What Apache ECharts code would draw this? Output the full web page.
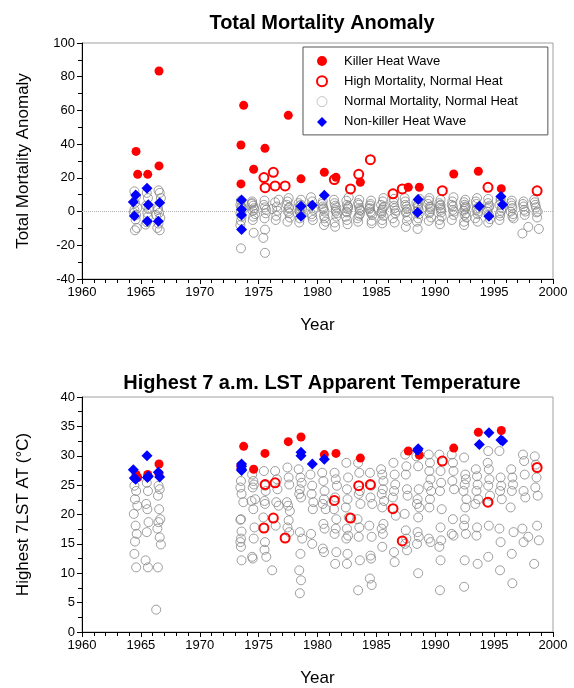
<!DOCTYPE html>
<html>
<head>
<meta charset="utf-8">
<script src="https://cdn.jsdelivr.net/npm/echarts@6/dist/echarts.min.js"></script>
<style>html,body{margin:0;padding:0;background:#fff}#c{width:574px;height:688px}</style>
</head>
<body>
<div id="c"></div>
<script>
// ---- DATA ----
const xTicks = [1960, 1965, 1970, 1975, 1980, 1985, 1990, 1995, 2000];
const mortTicks = [-40, -20, 0, 20, 40, 60, 80, 100];
const tempTicks = [0, 5, 10, 15, 20, 25, 30, 35, 40];

// Killer Heat Wave: year position, mortality anomaly, 7 a.m. apparent temperature
const killerYear = [1964.59, 1964.73, 1965.58, 1966.54, 1966.54, 1973.50, 1973.50, 1973.73, 1974.58, 1975.54, 1977.52, 1978.60, 1980.58, 1981.57, 1983.64, 1987.71, 1988.65, 1991.57, 1993.66, 1995.61];
const killerMort = [35.7, 22.1, 22.1, 83.4, 27.1, 39.5, 16.4, 63.0, 25.1, 37.5, 57.1, 19.4, 23.3, 20.3, 17.4, 14.4, 14.4, 22.3, 23.9, 13.6];
const killerTemp = [26.8, 26.3, 26.8, 28.6, 26.9, 28.4, 27.9, 31.6, 27.7, 30.4, 32.4, 33.2, 30.2, 30.4, 29.6, 30.8, 30.1, 31.3, 34.0, 34.3];

// High Mortality, Normal Heat
const highYear = [1975.45, 1975.55, 1976.25, 1976.40, 1977.25, 1981.43, 1982.80, 1983.50, 1984.49, 1986.41, 1987.20, 1990.60, 1994.48, 1998.65];
const highMort = [20.2, 14.2, 23.3, 15.2, 15.2, 19.0, 13.4, 22.1, 30.8, 10.5, 13.4, 12.4, 14.4, 12.3];
const highTemp = [17.7, 25.1, 19.4, 25.4, 16.0, 22.4, 19.4, 24.9, 25.1, 21.0, 15.5, 29.1, 22.1, 28.0];

// Non-killer Heat Wave
const nkYear = [1965.52, 1964.56, 1964.36, 1965.63, 1966.60, 1964.45, 1965.55, 1966.48, 1973.55, 1973.55, 1973.55, 1973.55, 1978.60, 1978.60, 1979.56, 1980.58, 1988.55, 1988.50, 1993.74, 1994.56, 1995.58, 1995.72];
const nkMort = [13.8, 9.9, 5.7, 4.0, 5.3, -2.6, -5.7, -5.7, 6.9, 1.2, -2.0, -10.7, 3.2, -2.8, 3.7, 9.7, 7.1, -0.6, 3.1, -2.8, 8.9, 4.1];
const nkTemp = [30.0, 26.0, 27.6, 26.5, 26.4, 26.2, 26.3, 27.2, 28.6, 27.7, 28.2, 27.5, 30.6, 30.0, 28.6, 29.4, 31.2, 30.9, 31.9, 33.9, 32.7, 32.5];

// Normal Mortality, Normal Heat
const grayYear = [
 1964.45,1964.60,1964.50,1964.70,1964.40,1964.55,1964.65,1964.50,1964.45,1964.60,
 1965.50,1965.60,1965.45,1965.55,1965.65,1965.50,1965.40,1965.60,
 1966.50,1966.60,1966.45,1966.55,1966.65,1966.50,1966.40,1966.60,1966.70,1966.45,1966.30,
 1973.50,1973.45,1973.55,1973.70,1973.50,1973.45,1973.55,1973.50,1973.45,1973.50,1973.55,
 1974.45,1974.55,1974.60,1974.50,1974.70,1974.40,1974.55,1974.65,1974.58,1974.45,1974.50,
 1975.45,1975.55,1975.60,1975.50,1975.54,1975.40,1975.54,1975.65,1975.50,
 1976.40,1976.55,1976.60,1976.50,1976.70,1976.45,1976.15,
 1977.45,1977.55,1977.60,1977.40,1977.50,1977.65,1977.55,1977.45,1977.60,
 1978.40,1978.55,1978.65,1978.50,1978.45,1978.60,1978.50,1978.70,1978.55,1978.45,1978.60,1978.50,
 1979.40,1979.55,1979.50,1979.65,1979.60,1979.45,1979.55,
 1980.40,1980.50,1980.60,1980.55,1980.45,1980.70,1980.50,1980.60,1980.45,1980.55,
 1981.45,1981.55,1981.65,1981.50,1981.40,1981.60,1981.55,1981.45,1981.60,1981.50,
 1982.45,1982.60,1982.50,1982.55,1982.40,1982.65,1982.50,1982.60,1982.45,1982.55,1982.50,
 1983.45,1983.55,1983.60,1983.50,1983.65,1983.40,1983.55,1983.50,1983.60,1983.45,
 1984.45,1984.55,1984.50,1984.65,1984.40,1984.60,1984.50,1984.55,1984.45,1984.60,
 1985.40,1985.50,1985.60,1985.55,1985.45,1985.65,1985.50,1985.60,1985.45,1985.55,1985.50,
 1986.45,1986.55,1986.60,1986.50,1986.40,1986.65,1986.50,1986.55,
 1987.45,1987.55,1987.50,1987.60,1987.65,1987.40,1987.50,1987.55,1987.45,1987.60,
 1988.40,1988.55,1988.60,1988.50,1988.45,1988.65,1988.55,1988.50,1988.60,1988.45,1988.55,
 1989.45,1989.55,1989.50,1989.60,1989.40,1989.65,1989.55,1989.50,1989.45,1989.60,
 1990.35,1990.45,1990.50,1990.40,1990.55,1990.45,1990.50,1990.35,1990.45,1990.40,
 1991.40,1991.50,1991.55,1991.45,1991.60,1991.50,1991.40,1991.55,
 1992.45,1992.55,1992.60,1992.50,1992.40,1992.65,1992.55,1992.50,1992.45,1992.60,1992.50,1992.45,
 1993.45,1993.55,1993.60,1993.50,1993.65,1993.40,1993.55,1993.50,1993.60,
 1994.50,1994.45,1994.55,1994.60,1994.50,1994.65,1994.40,1994.55,1994.50,
 1995.45,1995.55,1995.60,1995.50,1995.65,1995.45,1995.55,1995.50,
 1996.45,1996.55,1996.60,1996.50,1996.40,1996.65,1996.50,1996.55,
 1997.45,1997.55,1997.60,1997.50,1997.65,1997.40,1997.90,1997.50,
 1998.45,1998.55,1998.60,1998.50,1998.70,1998.65,1998.80,1998.40
];
const grayMort = [
 12.0,9.1,5.2,2.2,-0.8,-4.7,-9.7,-11.1,1.0,-2.0,
 11.1,8.0,3.5,-0.8,1.5,-6.3,-7.7,-3.0,
 12.6,11.1,2.2,-0.8,-3.8,-7.1,-9.7,-11.1,8.0,1.0,-2.0,
 6.5,4.0,3.0,1.5,0.5,-1.0,-3.0,-5.5,-8.0,-21.8,2.0,
 5.0,3.5,2.0,0.5,-1.5,4.5,-3.0,1.0,-12.6,6.0,-5.0,
 4.0,2.5,-1.0,6.5,-10.7,-15.6,-24.5,1.0,-4.0,
 5.5,3.0,0.5,-2.5,7.0,-5.0,1.5,
 6.0,2.0,-1.0,4.0,0.0,-3.5,8.0,-6.0,2.5,
 5.0,1.5,-2.0,3.5,0.5,7.0,-4.0,2.0,-1.0,-6.5,4.0,0.0,
 3.0,6.0,-1.5,1.0,-5.0,8.5,-3.0,
 4.5,2.0,0.0,-2.5,6.0,-6.0,1.5,-4.0,3.0,-8.0,
 5.0,1.0,-1.0,3.5,7.0,-3.0,0.0,-6.5,2.5,-9.0,
 6.5,3.0,-0.5,1.5,-3.0,8.5,-5.0,2.5,0.0,-7.5,4.0,
 5.0,2.0,-1.5,4.0,0.5,-4.0,7.0,-2.5,1.0,-6.0,
 3.5,6.5,0.0,-2.0,1.5,-5.5,4.5,-1.0,2.0,-7.0,
 4.0,1.0,-2.5,6.0,0.0,3.0,-5.0,8.0,-1.0,2.0,-7.0,
 5.5,2.0,-1.0,3.5,-4.0,0.5,7.5,-6.5,
 6.0,3.0,-0.5,1.5,-3.0,8.0,-9.1,0.0,4.0,-5.5,
 5.0,2.5,-1.5,3.5,0.0,7.5,-4.0,-10.3,1.0,-6.0,4.5,
 6.5,3.0,-1.0,1.5,4.5,-3.5,0.0,8.0,-5.5,2.5,
 5.0,2.0,-0.5,3.5,-3.0,7.0,1.0,-5.0,4.0,-7.5,
 4.0,1.0,-2.0,6.0,0.0,3.0,-5.0,8.5,
 5.5,2.5,-1.0,4.0,0.5,-3.5,7.0,1.5,-6.0,3.0,-2.0,-8.0,
 6.0,2.0,-1.5,4.5,0.0,-4.0,8.0,1.0,-6.0,
 5.0,1.5,-2.0,3.5,7.5,-4.5,0.0,2.5,-6.5,
 4.0,6.5,0.5,-2.5,2.0,-5.0,8.0,-1.0,
 5.0,2.0,-1.5,3.5,0.0,-4.0,6.5,-3.0,
 4.5,1.0,-2.0,6.0,0.0,-13.0,-9.1,3.0,
 5.5,2.5,-0.5,4.0,0.0,-3.5,-10.3,7.0
];
const grayTemp = [
 24.9,24.0,22.6,21.5,20.1,18.1,16.7,15.4,13.3,11.0,
 25.4,24.0,21.8,20.9,18.7,17.0,12.2,11.0,
 24.9,24.3,23.2,20.9,19.2,18.7,17.6,16.1,14.9,11.0,3.8,
 25.7,24.6,23.5,22.1,19.2,19.1,17.1,15.9,15.3,14.5,12.2,
 26.8,25.7,25.1,24.6,22.6,22.3,20.9,17.8,15.9,12.8,12.5,
 27.4,24.9,24.0,22.3,21.8,19.5,15.3,12.8,14.0,
 27.4,26.0,24.3,22.1,21.5,18.1,10.5,
 28.0,26.3,25.1,22.1,21.5,20.6,19.0,17.8,17.0,
 27.7,26.3,25.4,24.3,23.5,22.9,17.0,15.9,13.3,10.5,8.8,6.6,
 26.8,24.9,23.5,22.1,20.9,16.7,15.0,
 27.1,25.7,24.0,22.6,21.8,20.9,18.4,17.6,14.2,13.6,
 27.1,26.0,24.9,22.9,20.9,19.2,17.6,16.7,13.6,11.6,
 28.8,26.3,24.3,22.6,21.2,19.5,17.6,16.4,15.9,13.3,11.6,
 28.8,27.1,24.0,23.5,21.8,19.2,17.8,16.2,12.2,7.1,
 27.1,24.9,22.9,21.8,18.1,16.2,13.0,12.5,9.1,8.0,
 27.7,26.8,25.7,24.3,23.5,22.3,21.2,18.4,17.6,16.7,14.5,
 28.8,26.8,25.1,24.0,22.9,19.8,13.6,11.9,
 30.2,28.2,26.8,24.3,23.2,20.1,17.3,15.9,15.0,13.9,
 29.9,28.2,24.3,22.6,21.8,21.2,19.5,17.0,16.2,15.0,10.0,
 30.2,28.8,27.4,26.0,24.9,24.0,22.6,21.2,15.9,15.3,
 30.2,27.4,25.4,24.0,20.9,17.8,15.6,14.5,12.2,7.1,
 30.2,28.8,27.4,25.7,24.3,19.2,16.7,16.4,
 29.7,26.8,26.0,25.1,24.0,22.6,21.2,19.2,18.1,16.7,12.2,7.7,
 27.7,26.5,25.1,24.0,22.6,21.8,17.8,16.4,11.6,
 30.8,28.8,27.7,26.0,24.9,23.2,22.1,18.1,12.8,
 30.8,26.3,24.9,24.0,22.6,17.6,15.3,10.5,
 27.7,26.3,25.1,24.0,21.2,17.0,13.3,8.3,
 30.2,29.1,26.8,24.0,22.9,17.6,16.2,15.3,
 29.9,28.5,26.3,24.6,23.2,18.1,15.6,11.6
];

const NAMES = ['Killer Heat Wave', 'High Mortality, Normal Heat', 'Normal Mortality, Normal Heat', 'Non-killer Heat Wave'];
const FONT = "'Liberation Sans', Arial, sans-serif";

function pairs(xs, ys) { return xs.map((x, i) => [x, ys[i]]); }

const chart = echarts.init(document.getElementById('c'), null, { renderer: 'canvas' });

function xAxisCfg(idx) {
  return {
    type: 'value', gridIndex: idx, min: xTicks[0], max: xTicks[xTicks.length - 1], interval: 5,
    name: 'Year', nameLocation: 'middle', nameGap: 38,
    nameTextStyle: { fontSize: 17, color: '#000', fontFamily: FONT },
    axisLine: { show: true, onZero: false, lineStyle: { color: '#000', width: 1 } },
    axisTick: { show: true, inside: false, length: 5, lineStyle: { color: '#000' } },
    minorTick: { show: true, splitNumber: 5, length: 4, lineStyle: { color: '#000' } },
    axisLabel: { fontSize: 13, color: '#000', fontFamily: FONT, margin: 7, formatter: v => String(v) },
    splitLine: { show: false }
  };
}
function yAxisCfg(idx, ticks, interval, name) {
  return {
    type: 'value', gridIndex: idx, min: ticks[0], max: ticks[ticks.length - 1], interval: interval,
    name: name, nameLocation: 'middle', nameGap: 50, nameRotate: 90,
    nameTextStyle: { fontSize: 17, color: '#000', fontFamily: FONT },
    axisLine: { show: true, onZero: false, lineStyle: { color: '#000', width: 1 } },
    axisTick: { show: true, inside: false, length: 5, lineStyle: { color: '#000' } },
    minorTick: { show: true, splitNumber: 2, length: 4, lineStyle: { color: '#000' } },
    axisLabel: { fontSize: 13, color: '#000', fontFamily: FONT, margin: 7, formatter: v => String(v) },
    splitLine: { show: false }
  };
}

const grayStyle = { color: 'rgba(0,0,0,0)', borderColor: '#858585', borderWidth: 0.8, opacity: 1 };
const openRedStyle = { color: 'rgba(0,0,0,0)', borderColor: '#ff0000', borderWidth: 2, opacity: 1 };
const redStyle = { color: '#ff0000', opacity: 1 };
const blueStyle = { color: '#0000ff', opacity: 1 };

function seriesSet(idx, mort) {
  const yVals = (a, b) => mort ? a : b;
  const list = [
    { name: NAMES[2], type: 'scatter', xAxisIndex: idx, yAxisIndex: idx, symbol: 'circle', symbolSize: 9,
      itemStyle: grayStyle, data: pairs(grayYear, yVals(grayMort, grayTemp)), z: 2 },
    { name: NAMES[1], type: 'scatter', xAxisIndex: idx, yAxisIndex: idx, symbol: 'circle', symbolSize: 9,
      itemStyle: openRedStyle, data: pairs(highYear, yVals(highMort, highTemp)), z: 3 },
    { name: NAMES[0], type: 'scatter', xAxisIndex: idx, yAxisIndex: idx, symbol: 'circle', symbolSize: 9,
      itemStyle: redStyle, data: pairs(killerYear, yVals(killerMort, killerTemp)), z: 4 },
    { name: NAMES[3], type: 'scatter', xAxisIndex: idx, yAxisIndex: idx, symbol: 'diamond', symbolSize: 11,
      itemStyle: blueStyle, data: pairs(nkYear, yVals(nkMort, nkTemp)), z: 5 }
  ];
  if (mort) {
    list[0].markLine = {
      silent: true, symbol: 'none', label: { show: false }, animation: false,
      lineStyle: { color: '#b0b0b0', type: 'dotted', width: 1 },
      data: [{ yAxis: 0 }]
    };
  }
  return list;
}

const option = {
  animation: false,
  backgroundColor: '#fff',
  textStyle: { fontFamily: FONT },
  title: [
    { text: 'Total Mortality Anomaly', left: 317, top: 8, textAlign: 'center',
      textStyle: { fontSize: 20, fontWeight: 'bold', color: '#000', fontFamily: FONT } },
    { text: 'Highest 7 a.m. LST Apparent Temperature', left: 317, top: 368, textAlign: 'center',
      textStyle: { fontSize: 20, fontWeight: 'bold', color: '#000', fontFamily: FONT } }
  ],
  legend: {
    data: [
      { name: NAMES[0] },
      { name: NAMES[1] },
      { name: NAMES[2], itemStyle: { borderColor: '#b5b5b5', borderWidth: 0.8 } },
      { name: NAMES[3] }
    ],
    orient: 'vertical', left: 303, top: 47,
    padding: [7, 30, 6, 13], itemGap: 6.3, itemWidth: 10, itemHeight: 10,
    borderColor: '#555', borderWidth: 1, backgroundColor: '#fff',
    textStyle: { fontSize: 13, color: '#000', fontFamily: FONT, padding: [0, 0, 0, 12], lineHeight: 14 },
    selectedMode: false
  },
  grid: [
    { left: 82, right: 21, top: 43, height: 236, show: true, borderColor: '#a0a0a0', borderWidth: 1, backgroundColor: 'transparent' },
    { left: 82, right: 21, top: 397, height: 237, show: true, borderColor: '#a0a0a0', borderWidth: 1, backgroundColor: 'transparent' }
  ],
  xAxis: [xAxisCfg(0), xAxisCfg(1)],
  yAxis: [
    yAxisCfg(0, mortTicks, 20, 'Total Mortality Anomaly'),
    yAxisCfg(1, tempTicks, 5, 'Highest 7LST AT (°C)')
  ],
  series: [].concat(seriesSet(0, true), seriesSet(1, false))
};
chart.setOption(option);
</script>
</body>
</html>
